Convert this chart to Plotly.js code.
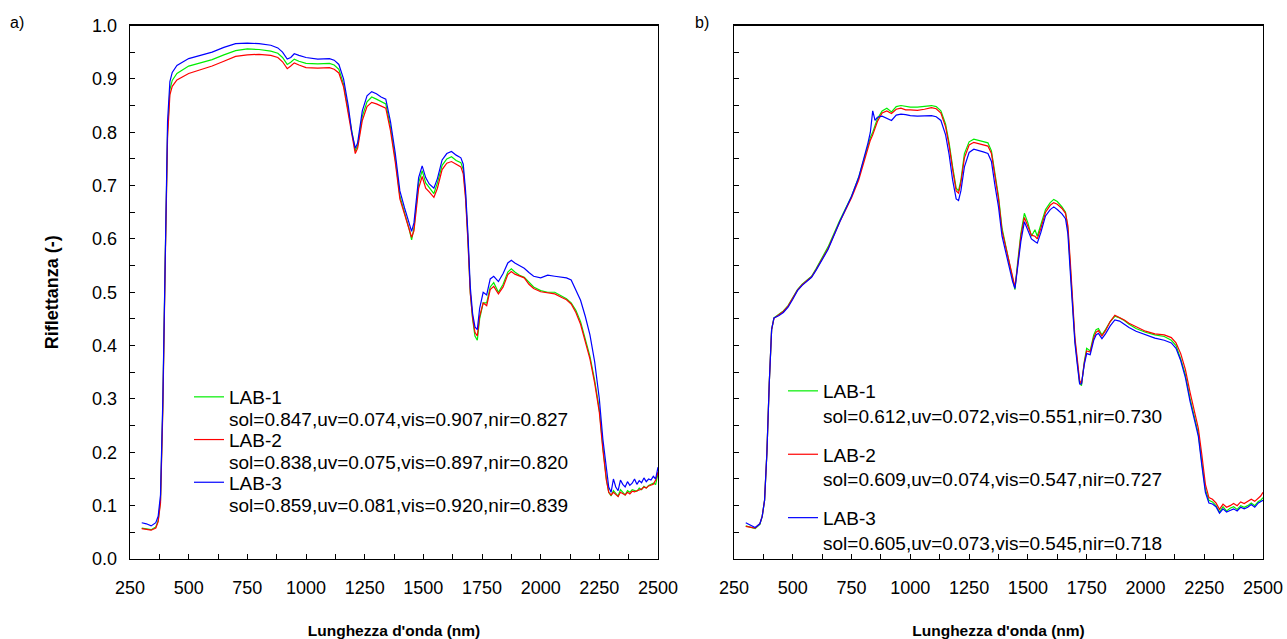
<!DOCTYPE html>
<html>
<head>
<meta charset="utf-8">
<script src="https://cdn.plot.ly/plotly-3.0.1.min.js"></script>
<style>html,body{margin:0;padding:0;background:#fff;} #chart{width:1287px;height:639px;}</style>
</head>
<body>
<div id="chart"></div>
<script>
// ---------- Panel a) ----------
const wlA = [300,320,340,360,370,380,390,400,410,420,430,450,500,550,600,650,700,750,800,850,880,900,920,935,950,970,1000,1050,1100,1120,1140,1160,1180,1195,1210,1220,1240,1260,1280,1300,1320,1340,1360,1380,1400,1420,1440,1450,1460,1480,1495,1510,1525,1545,1560,1580,1600,1620,1640,1660,1670,1680,1690,1700,1710,1720,1730,1740,1755,1770,1785,1800,1820,1840,1860,1875,1890,1910,1930,1950,1970,2000,2030,2060,2090,2110,2130,2150,2170,2190,2210,2230,2250,2265,2280,2290,2300,2310,2320,2330,2340,2350,2360,2370,2380,2390,2400,2410,2420,2430,2440,2450,2460,2470,2480,2490,2500];

const a_LAB1 = [0.058,0.057,0.055,0.060,0.072,0.110,0.290,0.560,0.800,0.880,0.897,0.910,0.924,0.930,0.936,0.945,0.953,0.956,0.955,0.952,0.948,0.940,0.927,0.931,0.937,0.933,0.929,0.928,0.929,0.926,0.918,0.890,0.840,0.795,0.765,0.775,0.830,0.857,0.866,0.862,0.857,0.853,0.810,0.752,0.680,0.650,0.618,0.598,0.620,0.705,0.728,0.705,0.697,0.685,0.705,0.738,0.750,0.754,0.747,0.743,0.730,0.682,0.600,0.500,0.450,0.418,0.410,0.450,0.480,0.480,0.510,0.518,0.500,0.515,0.538,0.544,0.538,0.532,0.528,0.518,0.510,0.503,0.500,0.500,0.492,0.488,0.480,0.466,0.445,0.415,0.380,0.335,0.280,0.210,0.150,0.125,0.118,0.128,0.122,0.118,0.130,0.125,0.120,0.128,0.125,0.130,0.128,0.127,0.133,0.130,0.136,0.133,0.138,0.140,0.142,0.140,0.160];

const a_LAB2 = [0.057,0.056,0.054,0.058,0.070,0.105,0.280,0.550,0.790,0.870,0.886,0.898,0.910,0.917,0.924,0.933,0.942,0.945,0.946,0.944,0.940,0.932,0.919,0.924,0.930,0.926,0.921,0.920,0.921,0.918,0.911,0.885,0.835,0.790,0.760,0.770,0.822,0.848,0.856,0.853,0.849,0.845,0.803,0.745,0.675,0.645,0.615,0.603,0.615,0.695,0.717,0.695,0.688,0.678,0.695,0.730,0.742,0.745,0.740,0.735,0.722,0.675,0.595,0.498,0.452,0.425,0.418,0.455,0.480,0.475,0.505,0.511,0.497,0.510,0.533,0.539,0.534,0.530,0.527,0.515,0.507,0.501,0.499,0.497,0.490,0.486,0.478,0.462,0.440,0.410,0.375,0.330,0.275,0.205,0.148,0.125,0.120,0.125,0.120,0.117,0.125,0.122,0.120,0.125,0.122,0.127,0.126,0.128,0.130,0.131,0.135,0.133,0.137,0.138,0.140,0.148,0.163];

const a_LAB3 = [0.068,0.066,0.062,0.068,0.080,0.120,0.300,0.580,0.820,0.895,0.912,0.925,0.938,0.944,0.950,0.959,0.966,0.967,0.966,0.963,0.958,0.950,0.937,0.940,0.947,0.944,0.940,0.937,0.938,0.935,0.927,0.900,0.850,0.800,0.770,0.780,0.840,0.868,0.876,0.872,0.866,0.862,0.820,0.762,0.690,0.658,0.630,0.614,0.630,0.715,0.737,0.715,0.703,0.695,0.713,0.748,0.760,0.764,0.757,0.752,0.740,0.690,0.610,0.510,0.460,0.435,0.430,0.470,0.500,0.495,0.525,0.530,0.520,0.535,0.555,0.560,0.555,0.550,0.545,0.537,0.530,0.527,0.532,0.530,0.528,0.527,0.523,0.505,0.485,0.455,0.420,0.370,0.300,0.225,0.165,0.135,0.125,0.150,0.135,0.128,0.148,0.140,0.135,0.145,0.138,0.142,0.150,0.140,0.147,0.143,0.152,0.145,0.150,0.148,0.155,0.150,0.172];

// ---------- Panel b) ----------
const wlB = [300,320,340,360,370,380,390,400,410,420,440,460,480,500,520,540,560,580,600,650,700,750,780,800,820,830,840,850,860,880,900,920,940,960,980,1000,1030,1060,1090,1110,1130,1150,1165,1180,1195,1205,1215,1230,1250,1270,1290,1310,1330,1345,1360,1375,1390,1405,1420,1435,1445,1455,1470,1485,1500,1515,1530,1540,1555,1575,1595,1610,1625,1645,1660,1670,1680,1690,1700,1710,1720,1728,1740,1750,1765,1780,1790,1800,1815,1830,1850,1870,1890,1910,1930,1960,2000,2040,2080,2110,2130,2150,2170,2190,2210,2225,2240,2255,2270,2285,2300,2315,2330,2345,2360,2375,2390,2405,2420,2435,2450,2465,2480,2490,2500];

const b_LAB1 = [0.062,0.060,0.057,0.065,0.080,0.110,0.200,0.330,0.430,0.452,0.458,0.465,0.475,0.490,0.505,0.515,0.522,0.530,0.545,0.585,0.635,0.680,0.715,0.745,0.775,0.790,0.800,0.812,0.825,0.840,0.845,0.838,0.848,0.850,0.848,0.847,0.847,0.848,0.850,0.848,0.840,0.815,0.780,0.735,0.695,0.690,0.710,0.760,0.782,0.787,0.785,0.782,0.780,0.765,0.720,0.680,0.620,0.590,0.560,0.530,0.505,0.550,0.610,0.648,0.630,0.605,0.617,0.605,0.625,0.655,0.668,0.674,0.670,0.660,0.650,0.620,0.550,0.470,0.410,0.370,0.330,0.325,0.370,0.395,0.390,0.420,0.430,0.432,0.420,0.430,0.445,0.455,0.452,0.447,0.440,0.432,0.425,0.420,0.417,0.410,0.400,0.375,0.345,0.300,0.262,0.235,0.180,0.130,0.110,0.107,0.100,0.088,0.098,0.090,0.095,0.098,0.093,0.100,0.097,0.100,0.105,0.100,0.108,0.110,0.115];

const b_LAB2 = [0.061,0.060,0.058,0.066,0.080,0.110,0.200,0.330,0.430,0.451,0.457,0.464,0.474,0.489,0.504,0.514,0.521,0.529,0.543,0.582,0.632,0.677,0.710,0.740,0.770,0.785,0.795,0.807,0.820,0.836,0.840,0.835,0.843,0.845,0.842,0.842,0.841,0.843,0.846,0.844,0.836,0.810,0.775,0.730,0.690,0.686,0.705,0.752,0.776,0.781,0.779,0.776,0.774,0.760,0.715,0.675,0.615,0.585,0.555,0.528,0.510,0.545,0.605,0.640,0.625,0.607,0.605,0.600,0.620,0.650,0.663,0.668,0.665,0.657,0.648,0.625,0.560,0.480,0.415,0.375,0.335,0.328,0.368,0.390,0.388,0.415,0.425,0.428,0.418,0.428,0.445,0.457,0.453,0.448,0.442,0.435,0.427,0.422,0.420,0.415,0.405,0.385,0.355,0.312,0.272,0.245,0.195,0.140,0.115,0.112,0.105,0.093,0.103,0.097,0.100,0.104,0.100,0.107,0.104,0.108,0.112,0.108,0.115,0.118,0.125];

const b_LAB3 = [0.068,0.064,0.059,0.066,0.080,0.110,0.200,0.330,0.430,0.452,0.456,0.462,0.472,0.487,0.503,0.513,0.520,0.528,0.542,0.580,0.632,0.680,0.715,0.745,0.780,0.800,0.840,0.822,0.828,0.830,0.826,0.822,0.832,0.834,0.833,0.831,0.830,0.830,0.831,0.829,0.822,0.795,0.758,0.710,0.675,0.672,0.690,0.735,0.762,0.768,0.766,0.763,0.760,0.745,0.700,0.660,0.605,0.575,0.545,0.520,0.507,0.540,0.595,0.632,0.615,0.600,0.595,0.592,0.612,0.643,0.655,0.660,0.655,0.647,0.638,0.610,0.540,0.465,0.405,0.365,0.328,0.328,0.365,0.385,0.383,0.410,0.420,0.423,0.413,0.422,0.437,0.448,0.446,0.440,0.434,0.427,0.420,0.414,0.410,0.405,0.395,0.372,0.340,0.295,0.258,0.230,0.175,0.125,0.105,0.103,0.098,0.086,0.094,0.088,0.091,0.094,0.090,0.097,0.094,0.097,0.102,0.097,0.105,0.107,0.110];

const seriesNames = ['LAB-1','LAB-2','LAB-3'];
const legendA = ['sol=0.847,uv=0.074,vis=0.907,nir=0.827','sol=0.838,uv=0.075,vis=0.897,nir=0.820','sol=0.859,uv=0.081,vis=0.920,nir=0.839'];
const legendB = ['sol=0.612,uv=0.072,vis=0.551,nir=0.730','sol=0.609,uv=0.074,vis=0.547,nir=0.727','sol=0.605,uv=0.073,vis=0.545,nir=0.718'];
const colors = ['#00ee00','#ff0000','#0000ff'];
const xTickVals = [250,500,750,1000,1250,1500,1750,2000,2250,2500];
const yTickVals = [0,0.1,0.2,0.3,0.4,0.5,0.6,0.7,0.8,0.9,1.0];

const FONT = 'Arial, "Liberation Sans", sans-serif';
const LEGEND_SIZE = 19;
const W = 1287, H = 639;

const dataA = [a_LAB1, a_LAB2, a_LAB3];
const dataB = [b_LAB1, b_LAB2, b_LAB3];
const traces = [];
// panel a: legend shows the sample names; the index lines sit under each name
dataA.forEach((ys, i) => traces.push({
  x: wlA, y: ys, type: 'scatter', mode: 'lines', xaxis: 'x', yaxis: 'y',
  name: seriesNames[i], legend: 'legend', legendgroup: 'a' + i,
  line: {color: colors[i], width: 1.2}
}));
dataB.forEach((ys, i) => traces.push({
  x: wlB, y: ys, type: 'scatter', mode: 'lines', xaxis: 'x2', yaxis: 'y2',
  name: seriesNames[i] + '<br>' + legendB[i], legend: 'legend2', legendgroup: 'b' + i,
  line: {color: colors[i], width: 1.2}
}));

function xAxis(domain, anchor) {
  return {
    domain: domain, anchor: anchor, range: [250, 2500], autorange: false,
    tickmode: 'array', tickvals: xTickVals, ticktext: xTickVals.map(String),
    ticks: 'inside', ticklen: 5, tickcolor: '#000', tickwidth: 1,
    minor: {ticks: 'inside', ticklen: 5, dtick: 125, tick0: 250, tickcolor: '#000', tickwidth: 1},
    showline: true, linecolor: '#000', linewidth: 1.3, mirror: true,
    showgrid: false, zeroline: false,
    tickfont: {family: FONT, size: 18, color: '#000'},
    ticklabelstandoff: 12,
    title: {text: "Lunghezza d'onda (nm)", font: {family: FONT, size: 15.5, color: '#000', weight: 'bold'}, standoff: 28}
  };
}
function yAxis(domain, anchor, labels) {
  return {
    domain: domain, anchor: anchor, range: [0, 1.0], autorange: false,
    tickmode: 'array', tickvals: yTickVals, ticktext: yTickVals.map(v => v.toFixed(1)),
    showticklabels: labels,
    ticks: 'inside', ticklen: 5, tickcolor: '#000', tickwidth: 1,
    minor: {ticks: 'inside', ticklen: 5, dtick: 0.05, tick0: 0, tickcolor: '#000', tickwidth: 1},
    showline: true, linecolor: '#000', linewidth: 1.3, mirror: true,
    showgrid: false, zeroline: false,
    tickfont: {family: FONT, size: 18, color: '#000'},
    ticklabelstandoff: 8,
    title: labels ? {text: 'Riflettanza (-)', font: {family: FONT, size: 18, color: '#000', weight: 'bold'}, standoff: 28} : {text: ''}
  };
}

const yDom = [1 - 559 / H, 1 - 25.5 / H];
const legAnnY = [419, 462, 505];
const annotations = [
  {text: 'a)', x: 8 / W, y: 1 - 22 / H, xref: 'paper', yref: 'paper', xanchor: 'left', yanchor: 'middle', showarrow: false, font: {family: FONT, size: 16, color: '#000'}},
  {text: 'b)', x: 693 / W, y: 1 - 22 / H, xref: 'paper', yref: 'paper', xanchor: 'left', yanchor: 'middle', showarrow: false, font: {family: FONT, size: 16, color: '#000'}}
];
legendA.forEach((t, i) => annotations.push({
  text: t, x: 227 / W, y: 1 - legAnnY[i] / H, xref: 'paper', yref: 'paper',
  xanchor: 'left', yanchor: 'middle', showarrow: false,
  font: {family: FONT, size: LEGEND_SIZE, color: '#000'}
}));

const layout = {
  width: W, height: H,
  margin: {l: 0, r: 0, t: 0, b: 0},
  paper_bgcolor: '#fff', plot_bgcolor: '#fff',
  font: {family: FONT, color: '#000'},
  xaxis: xAxis([130 / W, 658 / W], 'y'),
  yaxis: yAxis(yDom, 'x', true),
  xaxis2: xAxis([734 / W, 1263 / W], 'y2'),
  yaxis2: yAxis(yDom, 'x2', false),
  legend: {
    x: 189 / W, y: 1 - 378 / H, xanchor: 'left', yanchor: 'top',
    bgcolor: 'rgba(0,0,0,0)', borderwidth: 0, valign: 'top',
    tracegroupgap: 15, font: {family: FONT, size: LEGEND_SIZE, color: '#000'}
  },
  legend2: {
    x: 783 / W, y: 1 - 372 / H, xanchor: 'left', yanchor: 'top',
    bgcolor: 'rgba(0,0,0,0)', borderwidth: 0, valign: 'top',
    tracegroupgap: 11, font: {family: FONT, size: LEGEND_SIZE, color: '#000'}
  },
  showlegend: true,
  annotations: annotations
};

Plotly.newPlot('chart', traces, layout, {staticPlot: true, displayModeBar: false});
</script>
</body>
</html>
